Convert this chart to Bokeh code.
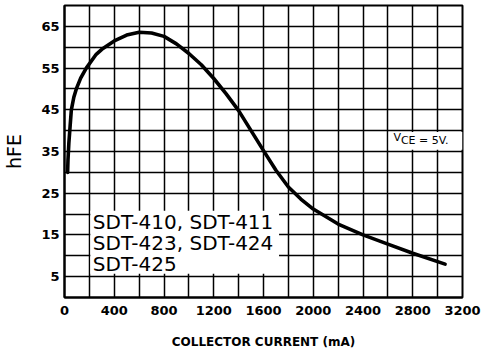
import math
from bokeh.plotting import figure
from bokeh.models import (SingleIntervalTicker, FixedTicker, BoxAnnotation, Label)
from bokeh.embed import file_html
from bokeh.resources import INLINE

# --- data ---
collector_current_mA = [25, 28, 35, 45, 55, 75, 95, 130, 175, 255, 300, 400, 500, 600,
                        700, 800, 900, 1000, 1100, 1200, 1300, 1400, 1500, 1600, 1700,
                        1800, 1900, 2000, 2200, 2400, 2600, 2800, 3060]
hfe = [30, 33, 37, 41, 45, 48, 50, 52.6, 55, 58.3, 59.5, 61.5, 62.9, 63.6,
       63.4, 62.6, 60.8, 58.5, 55.8, 52.5, 48.8, 44.8, 40, 35.2, 30.5,
       26.5, 23.6, 21.2, 17.6, 15, 12.8, 10.6, 8]

x_tick_values = [0, 400, 800, 1200, 1600, 2000, 2400, 2800, 3200]
y_tick_values = [5, 15, 25, 35, 45, 55, 65]
device_lines = ["SDT-410, SDT-411", "SDT-423, SDT-424", "SDT-425"]
x_title = "COLLECTOR CURRENT (mA)"
condition_text = ["V", "CE = 5V."]
y_title = "hFE"

p = figure(width=486, height=360, x_range=(0, 3200), y_range=(0, 70),
           output_backend="svg", toolbar_location=None,
           min_border_left=63, min_border_right=24, min_border_top=5,
           min_border_bottom=63)
p.background_fill_color = "white"
p.border_fill_color = "white"
p.outline_line_color = "black"
p.outline_line_width = 2

# grid
p.xgrid.ticker = SingleIntervalTicker(interval=200)
p.ygrid.ticker = SingleIntervalTicker(interval=5)
for g in (p.xgrid[0], p.ygrid[0]):
    g.grid_line_color = "black"
    g.grid_line_width = 1.5
    g.grid_line_alpha = 1

# axes
p.xaxis.ticker = FixedTicker(ticks=x_tick_values)
p.yaxis.ticker = FixedTicker(ticks=y_tick_values)
for ax in (p.xaxis[0], p.yaxis[0]):
    ax.major_tick_in = 0
    ax.major_tick_out = 0
    ax.minor_tick_in = 0
    ax.minor_tick_out = 0
    ax.axis_line_color = "black"
    ax.axis_line_width = 2
    ax.major_label_text_font = "DejaVu Sans"
    ax.major_label_text_font_style = "bold"
    ax.major_label_text_font_size = "13px"
    ax.major_label_text_color = "black"
p.xaxis.major_label_standoff = 8
p.yaxis.major_label_standoff = 5
p.xaxis.axis_label = x_title
p.xaxis.axis_label_text_font = "DejaVu Sans"
p.xaxis.axis_label_text_font_style = "bold"
p.xaxis.axis_label_text_font_size = "12px"
p.xaxis.axis_label_text_color = "black"
p.xaxis.axis_label_standoff = 17

p.yaxis.axis_label = y_title
p.yaxis.axis_label_text_font = "DejaVu Sans"
p.yaxis.axis_label_text_font_style = "normal"
p.yaxis.axis_label_text_font_size = "19px"
p.yaxis.axis_label_text_color = "black"
p.yaxis.axis_label_standoff = 13

# curve
p.line(collector_current_mA, hfe, line_color="black", line_width=3.6,
       line_join="round", line_cap="round")

# white box behind device list
p.add_layout(BoxAnnotation(left=208, right=1725, bottom=5.7, top=20.8,
                           fill_color="white", fill_alpha=1, line_alpha=0,
                           level="annotation"))
# white box behind condition text
p.add_layout(BoxAnnotation(left=2607, right=3200, bottom=35.4, top=39.7,
                           fill_color="white", fill_alpha=1, line_alpha=0,
                           level="annotation"))

for txt, yv in zip(device_lines, [18.1, 13.0, 8.0]):
    p.add_layout(Label(x=228, y=yv, text=txt, text_font="DejaVu Sans",
                       text_font_size="20px", text_color="black",
                       text_baseline="alphabetic", text_align="left"))

p.add_layout(Label(x=2645, y=38.3, text=condition_text[0], text_font="DejaVu Sans",
                   text_font_size="11px", text_color="black",
                   text_baseline="alphabetic"))
p.add_layout(Label(x=2705, y=37.6, text=condition_text[1], text_font="DejaVu Sans",
                   text_font_size="11px", text_color="black",
                   text_baseline="alphabetic"))

open("out.html", "w").write(file_html(p, INLINE))
